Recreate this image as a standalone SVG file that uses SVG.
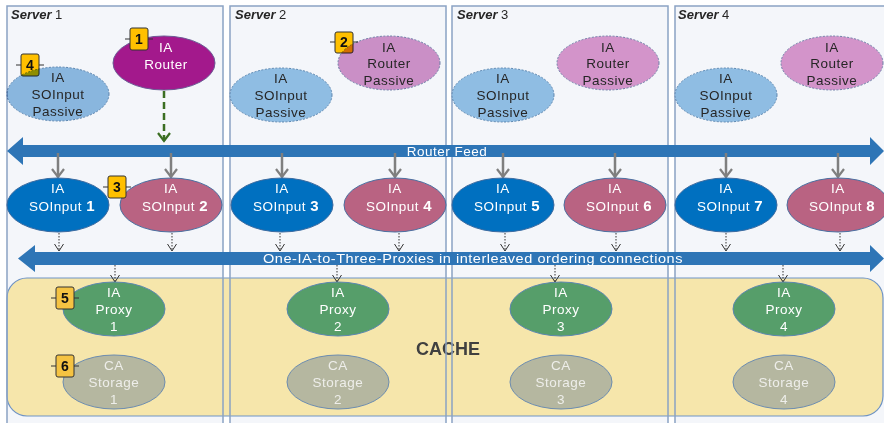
<svg xmlns="http://www.w3.org/2000/svg" width="884" height="423" viewBox="0 0 884 423">
<style>
.panel{fill:#f4f6fa;stroke:none}
.pb{fill:none;stroke:#8aa3c4;stroke-width:1.5}
.cache{fill:#f6e6ab;stroke:#6e93c5;stroke-width:1.2}
.bus{fill:#2e75b6}
text{font-family:"Liberation Sans",Arial,sans-serif;font-size:13.5px;letter-spacing:0.5px;text-anchor:middle}
.srv{font-size:13px;letter-spacing:0;fill:#262626;text-anchor:start}
.w{fill:#ffffff}
.d{fill:#262626}
.st{fill:#eeeeea}
.sip{fill:#8fbde3;stroke:#5b86b0;stroke-width:1;stroke-dasharray:2 1.5}
.rp{fill:#d394ca;stroke:#6f7fa8;stroke-width:1;stroke-dasharray:2 1.5}
.rt{fill:#a3198c;stroke:#6b5a95;stroke-width:1}
.s1{fill:#0070c0;stroke:#3a6aa0;stroke-width:1}
.s2{fill:#b96382;stroke:#4a6fa0;stroke-width:1}
.px{fill:#569e6a;stroke:#5b86b0;stroke-width:1}
.sg{fill:#b5b7a0;stroke:#6c8cb0;stroke-width:1}
.mul{mix-blend-mode:multiply}
.bd{fill:#ffc000;stroke:#333333;stroke-width:1}
.bt{font-weight:bold;font-size:14px;letter-spacing:0;fill:#111111}
.tick{stroke:#333333;stroke-width:1}
.ga{stroke:#7f7f7f;stroke-width:2.5;fill:none}
.da{stroke:#333333;stroke-width:1;stroke-dasharray:1.5 1.5;fill:none}
.gr{stroke:#3b6e22;stroke-width:2.5;stroke-dasharray:7 4;fill:none}
.n{font-weight:bold;font-size:15px}
</style>
<defs>
<marker id="mg" markerUnits="userSpaceOnUse" viewBox="-10 -10 20 20" markerWidth="20" markerHeight="20" refX="0" refY="0" orient="auto"><path d="M-8,-6 L0,0 L-8,6" fill="none" stroke="#7f7f7f" stroke-width="2.2"/></marker>
<marker id="md" markerUnits="userSpaceOnUse" viewBox="-10 -10 20 20" markerWidth="20" markerHeight="20" refX="0" refY="0" orient="auto"><path d="M-7,-4.5 L0,0 L-7,4.5" fill="none" stroke="#333333" stroke-width="1"/></marker>
<marker id="mgr" markerUnits="userSpaceOnUse" viewBox="-10 -10 20 20" markerWidth="20" markerHeight="20" refX="0" refY="0" orient="auto"><path d="M-8,-6 L0,0 L-8,6" fill="none" stroke="#3b6e22" stroke-width="2.2"/></marker>
</defs>
<rect width="884" height="423" fill="#ffffff"/>
<g id="panels">
<rect class="panel" x="7" y="6" width="216" height="430"/>
<rect class="panel" x="230" y="6" width="216" height="430"/>
<rect class="panel" x="452" y="6" width="216" height="430"/>
<rect class="panel" x="675" y="6" width="230" height="430"/>
</g>
<g id="cache">
<rect class="cache" x="7" y="278" width="876" height="138" rx="20"/>
<text x="448" y="355" style="font-weight:bold;font-size:18px;letter-spacing:0;fill:#404040">CACHE</text>
</g>
<g id="panel-borders">
<rect class="pb" x="7" y="6" width="216" height="430"/>
<rect class="pb" x="230" y="6" width="216" height="430"/>
<rect class="pb" x="452" y="6" width="216" height="430"/>
<rect class="pb" x="675" y="6" width="230" height="430"/>
<text class="srv" x="11" y="19"><tspan font-weight="bold" font-style="italic">Server</tspan> 1</text>
<text class="srv" x="235" y="19"><tspan font-weight="bold" font-style="italic">Server</tspan> 2</text>
<text class="srv" x="457" y="19"><tspan font-weight="bold" font-style="italic">Server</tspan> 3</text>
<text class="srv" x="678" y="19"><tspan font-weight="bold" font-style="italic">Server</tspan> 4</text>
</g>
<g id="router-feed">
<polygon class="bus" points="7,151 23,137 23,145 870,145 870,137 884,151 870,165 870,157 23,157 23,165"/>
<text class="w" x="447" y="156">Router Feed</text>
</g>
<g id="proxy-bus">
<polygon class="bus" points="18,258.5 35,245 35,252 870,252 870,245 884,258.5 870,272 870,265 35,265 35,272"/>
<text class="w" x="473" y="263" textLength="420" lengthAdjust="spacingAndGlyphs">One-IA-to-Three-Proxies in interleaved ordering connections</text>
</g>
<g id="connectors">
<line class="gr" x1="164" y1="91" x2="164" y2="141" marker-end="url(#mgr)"/>
<line class="ga" x1="58" y1="153" x2="58" y2="177" marker-end="url(#mg)"/>
<line class="ga" x1="171" y1="153" x2="171" y2="177" marker-end="url(#mg)"/>
<line class="ga" x1="282" y1="153" x2="282" y2="177" marker-end="url(#mg)"/>
<line class="ga" x1="395" y1="153" x2="395" y2="177" marker-end="url(#mg)"/>
<line class="ga" x1="503" y1="153" x2="503" y2="177" marker-end="url(#mg)"/>
<line class="ga" x1="615" y1="153" x2="615" y2="177" marker-end="url(#mg)"/>
<line class="ga" x1="726" y1="153" x2="726" y2="177" marker-end="url(#mg)"/>
<line class="ga" x1="838" y1="153" x2="838" y2="177" marker-end="url(#mg)"/>
<line class="da" x1="59" y1="233" x2="59" y2="251" marker-end="url(#md)"/>
<line class="da" x1="172" y1="233" x2="172" y2="251" marker-end="url(#md)"/>
<line class="da" x1="280" y1="233" x2="280" y2="251" marker-end="url(#md)"/>
<line class="da" x1="399" y1="233" x2="399" y2="251" marker-end="url(#md)"/>
<line class="da" x1="505" y1="233" x2="505" y2="251" marker-end="url(#md)"/>
<line class="da" x1="616" y1="233" x2="616" y2="251" marker-end="url(#md)"/>
<line class="da" x1="726" y1="233" x2="726" y2="251" marker-end="url(#md)"/>
<line class="da" x1="840" y1="233" x2="840" y2="251" marker-end="url(#md)"/>
<line class="da" x1="115" y1="265" x2="115" y2="282" marker-end="url(#md)"/>
<line class="da" x1="337" y1="265" x2="337" y2="282" marker-end="url(#md)"/>
<line class="da" x1="555" y1="265" x2="555" y2="282" marker-end="url(#md)"/>
<line class="da" x1="783" y1="265" x2="783" y2="282" marker-end="url(#md)"/>
</g>
<g id="badge4"><line class="tick" x1="16" y1="65" x2="44" y2="65"/><rect class="bd" x="21" y="54" width="18" height="22" rx="2"/><text class="bt" x="30" y="70">4</text></g>
<g id="badge2"><line class="tick" x1="330" y1="42" x2="358" y2="42"/><rect class="bd" x="335" y="32" width="18" height="21" rx="2"/><text class="bt" x="344" y="47">2</text></g>
<g id="sip1"><ellipse class="sip mul" cx="58" cy="94" rx="51" ry="27"/><text class="d" x="58" y="82">IA</text><text class="d" x="58" y="99">SOInput</text><text class="d" x="58" y="115.5">Passive</text></g>
<g id="router1"><ellipse class="rt" cx="164" cy="63" rx="51" ry="27"/><text class="w" x="166" y="52">IA</text><text class="w" x="166" y="69">Router</text></g>
<g id="sip2"><ellipse class="sip" cx="281" cy="95" rx="51" ry="27"/><text class="d" x="281" y="83">IA</text><text class="d" x="281" y="100">SOInput</text><text class="d" x="281" y="116.5">Passive</text></g>
<g id="rp2"><ellipse class="rp mul" cx="389" cy="63" rx="51" ry="27"/><text class="d" x="389" y="51.5">IA</text><text class="d" x="389" y="68">Router</text><text class="d" x="389" y="85">Passive</text></g>
<g id="sip3"><ellipse class="sip" cx="503" cy="95" rx="51" ry="27"/><text class="d" x="503" y="83">IA</text><text class="d" x="503" y="100">SOInput</text><text class="d" x="503" y="116.5">Passive</text></g>
<g id="rp3"><ellipse class="rp" cx="608" cy="63" rx="51" ry="27"/><text class="d" x="608" y="51.5">IA</text><text class="d" x="608" y="68">Router</text><text class="d" x="608" y="85">Passive</text></g>
<g id="sip4"><ellipse class="sip" cx="726" cy="95" rx="51" ry="27"/><text class="d" x="726" y="83">IA</text><text class="d" x="726" y="100">SOInput</text><text class="d" x="726" y="116.5">Passive</text></g>
<g id="rp4"><ellipse class="rp" cx="832" cy="63" rx="51" ry="27"/><text class="d" x="832" y="51.5">IA</text><text class="d" x="832" y="68">Router</text><text class="d" x="832" y="85">Passive</text></g>
<g id="badge1"><line class="tick" x1="125" y1="39" x2="153" y2="39"/><rect class="bd" x="130" y="28" width="18" height="22" rx="2"/><text class="bt" x="139" y="44">1</text></g>
<g id="so1"><ellipse class="s1" cx="58" cy="205" rx="51" ry="27"/><text class="w" x="58" y="193">IA</text><text class="w" x="62" y="211">SOInput <tspan class="n">1</tspan></text></g>
<g id="so2"><ellipse class="s2" cx="171" cy="205" rx="51" ry="27"/><text class="w" x="171" y="193">IA</text><text class="w" x="175" y="211">SOInput <tspan class="n">2</tspan></text></g>
<g id="so3"><ellipse class="s1" cx="282" cy="205" rx="51" ry="27"/><text class="w" x="282" y="193">IA</text><text class="w" x="286" y="211">SOInput <tspan class="n">3</tspan></text></g>
<g id="so4"><ellipse class="s2" cx="395" cy="205" rx="51" ry="27"/><text class="w" x="395" y="193">IA</text><text class="w" x="399" y="211">SOInput <tspan class="n">4</tspan></text></g>
<g id="so5"><ellipse class="s1" cx="503" cy="205" rx="51" ry="27"/><text class="w" x="503" y="193">IA</text><text class="w" x="507" y="211">SOInput <tspan class="n">5</tspan></text></g>
<g id="so6"><ellipse class="s2" cx="615" cy="205" rx="51" ry="27"/><text class="w" x="615" y="193">IA</text><text class="w" x="619" y="211">SOInput <tspan class="n">6</tspan></text></g>
<g id="so7"><ellipse class="s1" cx="726" cy="205" rx="51" ry="27"/><text class="w" x="726" y="193">IA</text><text class="w" x="730" y="211">SOInput <tspan class="n">7</tspan></text></g>
<g id="so8"><ellipse class="s2" cx="838" cy="205" rx="51" ry="27"/><text class="w" x="838" y="193">IA</text><text class="w" x="842" y="211">SOInput <tspan class="n">8</tspan></text></g>
<g id="badge3"><line class="tick" x1="103" y1="187" x2="131" y2="187"/><rect class="bd" x="108" y="176" width="18" height="22" rx="2"/><text class="bt" x="117" y="192">3</text></g>
<g id="proxy1"><ellipse class="px" cx="114" cy="309" rx="51" ry="27"/><text class="w" x="114" y="297">IA</text><text class="w" x="114" y="314">Proxy</text><text class="w" x="114" y="331">1</text></g>
<g id="proxy2"><ellipse class="px" cx="338" cy="309" rx="51" ry="27"/><text class="w" x="338" y="297">IA</text><text class="w" x="338" y="314">Proxy</text><text class="w" x="338" y="331">2</text></g>
<g id="proxy3"><ellipse class="px" cx="561" cy="309" rx="51" ry="27"/><text class="w" x="561" y="297">IA</text><text class="w" x="561" y="314">Proxy</text><text class="w" x="561" y="331">3</text></g>
<g id="proxy4"><ellipse class="px" cx="784" cy="309" rx="51" ry="27"/><text class="w" x="784" y="297">IA</text><text class="w" x="784" y="314">Proxy</text><text class="w" x="784" y="331">4</text></g>
<g id="storage1"><ellipse class="sg" cx="114" cy="382" rx="51" ry="27"/><text class="st" x="114" y="370">CA</text><text class="st" x="114" y="387">Storage</text><text class="st" x="114" y="404">1</text></g>
<g id="storage2"><ellipse class="sg" cx="338" cy="382" rx="51" ry="27"/><text class="st" x="338" y="370">CA</text><text class="st" x="338" y="387">Storage</text><text class="st" x="338" y="404">2</text></g>
<g id="storage3"><ellipse class="sg" cx="561" cy="382" rx="51" ry="27"/><text class="st" x="561" y="370">CA</text><text class="st" x="561" y="387">Storage</text><text class="st" x="561" y="404">3</text></g>
<g id="storage4"><ellipse class="sg" cx="784" cy="382" rx="51" ry="27"/><text class="st" x="784" y="370">CA</text><text class="st" x="784" y="387">Storage</text><text class="st" x="784" y="404">4</text></g>
<g id="badge5"><line class="tick" x1="51" y1="298" x2="79" y2="298"/><rect class="bd" x="56" y="287" width="18" height="22" rx="2" style="fill:#f5c342"/><text class="bt" x="65" y="303">5</text></g>
<g id="badge6"><line class="tick" x1="51" y1="366" x2="79" y2="366"/><rect class="bd" x="56" y="355" width="18" height="22" rx="2" style="fill:#f5c342"/><text class="bt" x="65" y="371">6</text></g>
</svg>
